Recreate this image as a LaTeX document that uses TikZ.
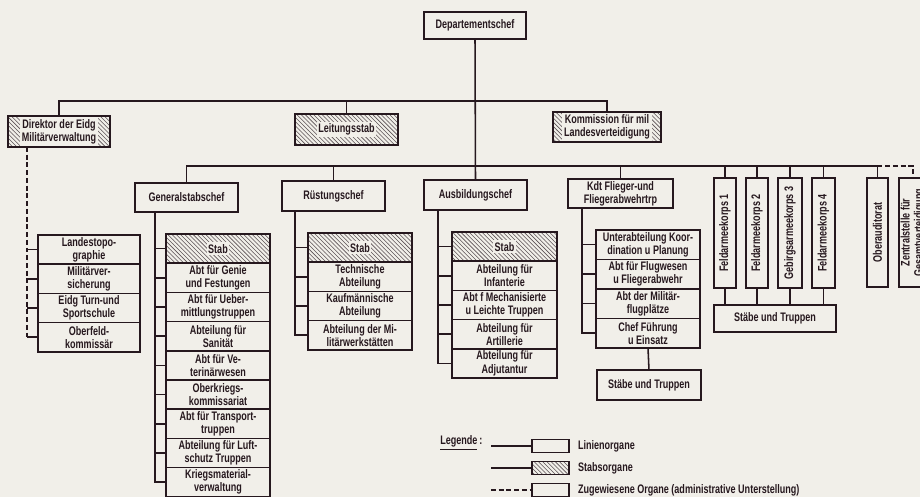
\documentclass[tikz,border=0pt]{standalone}
\usepackage{fontspec}
\setmainfont{Liberation Sans}[FakeStretch=0.73]
\usetikzlibrary{positioning,patterns}
\definecolor{ink}{RGB}{38,24,30}
\definecolor{paper}{RGB}{241,239,233}
\newcommand\orgfont{\fontsize{8.8}{9.4}\selectfont\bfseries}
\tikzset{
  org/.style={draw=ink, line width=1.2pt, outer sep=0pt, inner sep=1pt, align=center, text=ink, font=\orgfont},
  wh/.style 2 args={minimum width=#1*0.025cm, minimum height=#2*0.025cm},
  zeile/.style={org, wh={104}{29.2}},
  stabs/.style={org, line width=1.6pt, pattern=north west lines, pattern color=ink!75},
  stabtext/.style={fill=paper, inner sep=1.2pt, align=center, text=ink, font=\orgfont},
  vert/.style={org, rotate=90},
  linie/.style={draw=ink, line width=1.1pt},
  zug/.style={linie, dash pattern=on 3.5pt off 2pt},
  legtext/.style={text=ink, font=\orgfont, inner sep=0pt}
}

\begin{document}
\begin{tikzpicture}[x=0.025cm,y=-0.025cm]
\useasboundingbox (0,0) rectangle (920,497);
\fill[paper] (0,0) rectangle (920,497);
\clip (0,0) rectangle (920,497);

% ---------------- top level ----------------
\node[org, wh={102}{27}] (dep) at (475,25.5) {Departementschef};
\coordinate (bus1) at (0,101);
\coordinate (bus2) at (0,166);

\node[stabs, wh={102}{31}] (dir) at (59,131.5) {};
\node[stabtext] (dirT) at (dir) {Direktor der Eidg\\Militärverwaltung};
\node[stabs, wh={103}{31}] (leit) at (346.5,129.5) {};
\node[stabtext] (leitT) at (leit) {Leitungsstab};
\node[stabs, wh={108}{30}] (komm) at (607,127) {};
\node[stabtext] (kommT) at (komm) {Kommission für mil\\Landesverteidigung};

% ---------------- chiefs ----------------
\node[org, wh={103}{29}] (gsc) at (186.5,197.5) {Generalstabschef};
\node[org, wh={103}{30}] (rc) at (333.5,196) {Rüstungschef};
\node[org, wh={103}{30}] (ac) at (475.5,195) {Ausbildungschef};
\node[org, wh={105}{29}] (kdt) at (620.5,193.5) {Kdt Flieger-und\\Fliegerabwehrtrp};

\node[vert, wh={110}{22}] (fak1) at (725,233) {Feldarmeekorps 1};
\node[vert, wh={110}{22}] (fak2) at (757,233) {Feldarmeekorps 2};
\node[vert, wh={110}{24}] (geb3) at (790,233) {Gebirgsarmeekorps 3};
\node[vert, wh={110}{23}] (fak4) at (823.5,233) {Feldarmeekorps 4};
\node[vert, wh={109}{21}] (oba) at (877.5,232.5) {Oberauditorat};
\node[vert, wh={109}{28}] (zgv) at (913,232.5) {Zentralstelle für\\Gesamtverteidigung};
\node[org, wh={122}{27}] (stT) at (775,318.5) {Stäbe und Truppen};

% ---------------- Direktor column ----------------
\node[org, wh={102}{29.2}] (lt1) at (89,249.6) {Landestopo-\\graphie};
\node[org, wh={102}{29.2}, below=0pt of lt1] (lt2) {Militärver-\\sicherung};
\node[org, wh={102}{29.2}, below=0pt of lt2] (lt3) {Eidg Turn-und\\Sportschule};
\node[org, wh={102}{29.2}, below=0pt of lt3] (lt4) {Oberfeld-\\kommissär};

% ---------------- Generalstabschef column ----------------
\node[stabs, wh={104}{29.2}] (gs1) at (218,248.6) {};
\node[stabtext] (gs1T) at (gs1) {Stab};
\node[zeile, below=0pt of gs1] (gs2) {Abt für Genie\\und Festungen};
\node[zeile, below=0pt of gs2] (gs3) {Abt für Ueber-\\mittlungstruppen};
\node[zeile, below=0pt of gs3] (gs4) {Abteilung für\\Sanität};
\node[zeile, below=0pt of gs4] (gs5) {Abt für Ve-\\terinärwesen};
\node[zeile, below=0pt of gs5] (gs6) {Oberkriegs-\\kommissariat};
\node[zeile, below=0pt of gs6] (gs7) {Abt für Transport-\\truppen};
\node[zeile, below=0pt of gs7] (gs8) {Abteilung für Luft-\\schutz Truppen};
\node[zeile, below=0pt of gs8] (gs9) {Kriegsmaterial-\\verwaltung};

% ---------------- Rüstungschef column ----------------
\node[stabs, wh={104}{29.2}] (rs1) at (360,247.6) {};
\node[stabtext] (rs1T) at (rs1) {Stab};
\node[zeile, below=0pt of rs1] (rs2) {Technische\\Abteilung};
\node[zeile, below=0pt of rs2] (rs3) {Kaufmännische\\Abteilung};
\node[zeile, below=0pt of rs3] (rs4) {Abteilung der Mi-\\litärwerkstätten};

% ---------------- Ausbildungschef column ----------------
\node[stabs, wh={105}{29.2}] (as1) at (504.5,246.6) {};
\node[stabtext] (as1T) at (as1) {Stab};
\node[zeile, wh={105}{29.2}, below=0pt of as1] (as2) {Abteilung für\\Infanterie};
\node[zeile, wh={105}{29.2}, below=0pt of as2] (as3) {Abt f Mechanisierte\\u Leichte Truppen};
\node[zeile, wh={105}{29.2}, below=0pt of as3] (as4) {Abteilung für\\Artillerie};
\node[zeile, wh={105}{29.2}, below=0pt of as4] (as5) {Abteilung für\\Adjutantur};

% ---------------- Flieger column ----------------
\node[zeile, wh={104}{29.5}] (fl1) at (648,244.7) {Unterabteilung Koor-\\dination u Planung};
\node[zeile, wh={104}{29.5}, below=0pt of fl1] (fl2) {Abt für Flugwesen\\u Fliegerabwehr};
\node[zeile, wh={104}{29.5}, below=0pt of fl2] (fl3) {Abt der Militär-\\flugplätze};
\node[zeile, wh={104}{29.5}, below=0pt of fl3] (fl4) {Chef Führung\\u Einsatz};
\node[org, wh={104}{30}] (flT) at (649,385) {Stäbe und Truppen};

% ---------------- connectors ----------------
\coordinate (dirS) at (27,0);
\coordinate (gsS) at (155,0);
\coordinate (rcS) at (295,0);
\coordinate (acS) at (438,0);
\coordinate (flS) at (582,0);

\draw[linie] (dep.south) -- (ac.north);
\draw[linie] (dir.north) |- (komm.north |- bus1) -- (komm.north);
\draw[linie] (leit.north) -- (leit.north |- bus1);
\draw[linie] (gsc.north) |- (oba.east |- bus2) -- (oba.east);
\draw[zug] (oba.east |- bus2) -| (zgv.east);
\draw[linie] (rc.north) -- (rc.north |- bus2);
\draw[linie] (kdt.north) -- (kdt.north |- bus2);
\draw[linie] (fak1.east) -- (fak1.east |- bus2);
\draw[linie] (fak2.east) -- (fak2.east |- bus2);
\draw[linie] (geb3.east) -- (geb3.east |- bus2);
\draw[linie] (fak4.east) -- (fak4.east |- bus2);
\draw[linie] (fak1.west) -- (fak1.west |- stT.north);
\draw[linie] (fak2.west) -- (fak2.west |- stT.north);
\draw[linie] (geb3.west) -- (geb3.west |- stT.north);
\draw[linie] (fak4.west) -- (fak4.west |- stT.north);
\draw[linie] (fl4.south) -- (flT.north);

\draw[zug] (dirS |- dir.south) -- (dirS |- lt4.west);
\draw[linie] (dirS |- lt1.west) -- (lt1.west) (dirS |- lt2.west) -- (lt2.west)
  (dirS |- lt3.west) -- (lt3.west) (dirS |- lt4.west) -- (lt4.west);

\draw[linie] (gsS |- gsc.south) |- (gs9.west)
  (gsS |- gs1.west) -- (gs1.west) (gsS |- gs2.west) -- (gs2.west)
  (gsS |- gs3.west) -- (gs3.west) (gsS |- gs4.west) -- (gs4.west)
  (gsS |- gs5.west) -- (gs5.west) (gsS |- gs6.west) -- (gs6.west)
  (gsS |- gs7.west) -- (gs7.west) (gsS |- gs8.west) -- (gs8.west);
\draw[linie] (rcS |- rc.south) |- (rs4.west)
  (rcS |- rs1.west) -- (rs1.west) (rcS |- rs2.west) -- (rs2.west)
  (rcS |- rs3.west) -- (rs3.west);
\draw[linie] (acS |- ac.south) |- (as5.west)
  (acS |- as1.west) -- (as1.west) (acS |- as2.west) -- (as2.west)
  (acS |- as3.west) -- (as3.west) (acS |- as4.west) -- (as4.west);
\draw[linie] (flS |- kdt.south) |- (fl4.west)
  (flS |- fl1.west) -- (fl1.west) (flS |- fl2.west) -- (fl2.west)
  (flS |- fl3.west) -- (fl3.west);

% ---------------- legend ----------------
\node[legtext, anchor=west] (leg) at (440,443) {\underline{Legende}\,:};
\node[org, wh={37}{13}] (leg1) at (550.5,446) {};
\node[stabs, line width=1.2pt, wh={37}{13}] (leg2) at (550.5,468) {};
\node[org, wh={37}{13}] (leg3) at (550.5,490) {};
\coordinate (leg1L) at (491,446);
\coordinate (leg2L) at (491,468);
\coordinate (leg3L) at (491,490);
\draw[linie] (leg1L) -- (leg1.west);
\draw[linie] (leg2L) -- (leg2.west);
\draw[zug] (leg3L) -- (leg3.west);
\node[legtext, right=0.22cm of leg1] (leg1T) {Linienorgane};
\node[legtext, right=0.22cm of leg2] (leg2T) {Stabsorgane};
\node[legtext, right=0.22cm of leg3] (leg3T) {Zugewiesene Organe (administrative Unterstellung)};

\end{tikzpicture}
\end{document}
